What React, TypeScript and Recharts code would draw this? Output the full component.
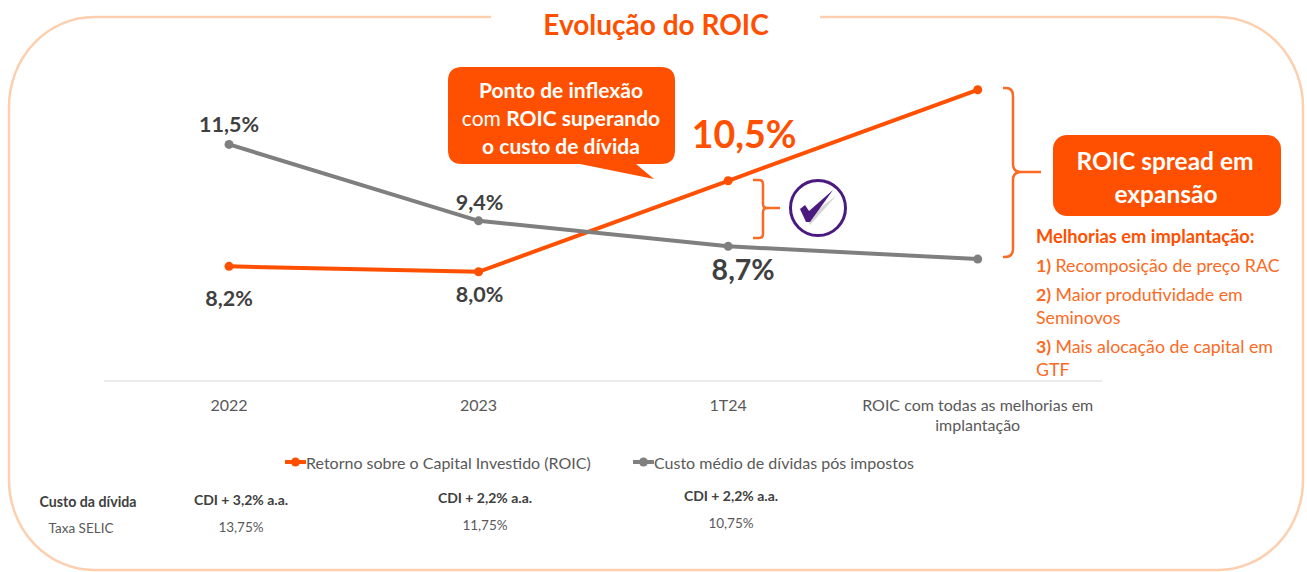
import React from "react";
import { LineChart, Line, XAxis, YAxis, Legend, LabelList } from "recharts";

const categories = ["2022", "2023", "1T24", "ROIC com todas as melhorias em implantação"];
const roicValues = [8.15, 8.0, 10.5, 13.0];
const debtValues = [11.5, 9.4, 8.7, 8.35];
const roicLabels = ["8,2%", "8,0%", "10,5%", ""];
const debtLabels = ["11,5%", "9,4%", "8,7%", ""];
const costRow = ["CDI + 3,2% a.a.", "CDI + 2,2% a.a.", "CDI + 2,2% a.a."];
const selicRow = ["13,75%", "11,75%", "10,75%"];

const chartData = categories.map((c, i) => ({ name: c, roic: roicValues[i], debt: debtValues[i] }));

const ORANGE = "#FE5000";
const SOFT = "#FB6A24";
const GREY = "#7F7F7F";
const DARK = "#404040";
const FONT = "Lato, sans-serif";

const W = 1307;
const H = 572;

const roicStyles = [
  { dy: 32, size: 21.5, weight: 700, fill: DARK, dx: 0 },
  { dy: 22, size: 21.5, weight: 700, fill: DARK, dx: 1 },
  { dy: -47, size: 37.5, weight: 700, fill: ORANGE, dx: 16 },
  { dy: 0, size: 0, weight: 400, fill: DARK, dx: 0 },
];
const debtStyles = [
  { dy: -20, size: 21.5, weight: 700, fill: DARK, dx: 0 },
  { dy: -19, size: 21.5, weight: 700, fill: DARK, dx: 1 },
  { dy: 23, size: 28.5, weight: 700, fill: DARK, dx: 15 },
  { dy: 0, size: 0, weight: 400, fill: DARK, dx: 0 },
];

function makeLabel(texts: string[], styles: typeof roicStyles) {
  return (p: any) => {
    const i = p.index;
    if (!texts[i]) return null;
    const s = styles[i];
    return (
      <text x={p.x + s.dx} y={p.y + s.dy} textAnchor="middle" dominantBaseline="central"
        fontFamily={FONT} fontSize={s.size} fontWeight={s.weight} fill={s.fill}>
        {texts[i]}
      </text>
    );
  };
}

function Tick(p: any) {
  const v: string = p.payload.value;
  const long = v.length > 20;
  const lines = long ? [v.slice(0, v.lastIndexOf(" ")), v.slice(v.lastIndexOf(" ") + 1)] : [v];
  return (
    <text x={p.x} y={p.y} textAnchor="middle" fontFamily={FONT} fontSize={16} fill="#595959">
      {lines.map((l, i) => (
        <tspan key={i} x={p.x} y={404 + i * 20} dominantBaseline="central">{l}</tspan>
      ))}
    </text>
  );
}

function LegendBox(p: any) {
  const items = p.payload || [];
  const lefts = [285, 633];
  return (
    <div style={{ position: "relative", height: 24, width: W, fontFamily: FONT, fontSize: 16, color: "#595959" }}>
      {items.map((it: any, i: number) => (
        <div key={i} style={{ position: "absolute", left: lefts[i], top: 0, height: 24, display: "flex", alignItems: "center", whiteSpace: "nowrap" }}>
          <svg width={21} height={12} style={{ display: "block" }}>
            <line x1={1} y1={6} x2={20} y2={6} stroke={it.color} strokeWidth={4} strokeLinecap="round" />
            <circle cx={10.5} cy={6} r={4.5} fill={it.color} />
          </svg>
          <span>{it.value}</span>
        </div>
      ))}
    </div>
  );
}

function T(props: any) {
  return <text fontFamily={FONT} dominantBaseline="central" {...props} />;
}

function Background() {
  return (
    <svg width={W} height={H} style={{ position: "absolute", left: 0, top: 0 }}>
      <rect x={9} y={17} width={1294} height={553} rx={85} ry={90} fill="#fff" stroke="#FDCFAE" strokeWidth={2.5} />
      <rect x={491} y={5} width={329} height={25} fill="#fff" />
    </svg>
  );
}

function Overlay() {
  const cols = [241, 485, 731];
  const costY = [499, 497, 495];
  const selicX = [241, 485, 731];
  const selicY = [527, 525, 523];
  return (
    <svg width={W} height={H} style={{ position: "absolute", left: 0, top: 0, pointerEvents: "none" }}>
      <T x={656} y={24} textAnchor="middle" fontSize={28} fontWeight={700} fill={ORANGE}>Evolução do ROIC</T>

      <path d="M462 67 H661 Q675 67 675 81 V150 Q675 164 661 164 H636 L654 179 L580 164 H462 Q448 164 448 150 V81 Q448 67 462 67 Z" fill={ORANGE} />
      <g textAnchor="middle" fontSize={21} fill="#fff">
        <T x={561} y={89} fontWeight={700}>Ponto de inflexão</T>
        <T x={561} y={117}><tspan fontWeight={400}>com </tspan><tspan fontWeight={700}>ROIC superando</tspan></T>
        <T x={561} y={145} fontWeight={700}>o custo de dívida</T>
      </g>

      <rect x={1053} y={135} width={228} height={81} rx={14} fill={ORANGE} />
      <g textAnchor="middle" fontSize={24.5} fontWeight={700} fill="#fff">
        <T x={1165} y={160}>ROIC spread em</T>
        <T x={1166} y={193}>expansão</T>
      </g>

      <path d="M1003 88 H1006 Q1013 88 1013 96 V164 Q1013 172 1021 172 H1041 M1021 172 Q1013 172 1013 180 V249 Q1013 257 1005 257 H1003" fill="none" stroke={SOFT} strokeWidth={2.5} />
      <path d="M753 180 H759 Q763 180 763 184 V204 Q763 208 767 208 H780 M767 208 Q763 208 763 212 V234 Q763 238 759 238 H753" fill="none" stroke={SOFT} strokeWidth={2.5} />

      <circle cx={818} cy={208} r={27.5} fill="#fff" stroke="#4B1A7E" strokeWidth={3} />
      <path d="M804 211 L810 225 L837 195 L811 215 L808 209 Z" fill="#D6D6D6" />
      <path d="M800 209 L805 205 L809 211 L833 190 L810 222 L806 222 Z" fill="#4B1A7E" />

      <g fontSize={17.8} fill={SOFT}>
        <T x={1036} y={236} fontWeight={700} fontSize={18.3} fill={ORANGE}>Melhorias em implantação:</T>
        <T x={1036} y={265}><tspan fontWeight={700}>1) </tspan>Recomposição de preço RAC</T>
        <T x={1036} y={294}><tspan fontWeight={700}>2) </tspan>Maior produtividade em</T>
        <T x={1036} y={317}>Seminovos</T>
        <T x={1036} y={346}><tspan fontWeight={700}>3) </tspan>Mais alocação de capital em</T>
        <T x={1036} y={369}>GTF</T>
      </g>

      <g fontSize={13.5} fill={DARK} textAnchor="middle">
        <T x={88} y={501} fontWeight={700} fontSize={14.2}>Custo da dívida</T>
        <T x={81} y={528} fill="#595959">Taxa SELIC</T>
        {costRow.map((c, i) => (
          <T key={i} x={cols[i]} y={costY[i]} fontWeight={700} fontSize={14}>{c}</T>
        ))}
        {selicRow.map((c, i) => (
          <T key={i} x={selicX[i]} y={selicY[i]} fill="#595959">{c}</T>
        ))}
      </g>
    </svg>
  );
}

export default function App() {
  return (
    <div style={{ position: "absolute", left: 0, top: 0, width: W, height: H, overflow: "hidden", background: "#fff" }}>
      <Background />
      <div style={{ position: "absolute", left: 0, top: 0 }}>
        <LineChart width={W} height={H} data={chartData}
          margin={{ top: 53.4, right: 204.5, bottom: 161, left: 104.25 }}>
          <XAxis dataKey="name" scale="band" interval={0} tickLine={false} stroke="#D9D9D9" tick={<Tick />} />
          <YAxis hide domain={[5, 14]} />
          <Legend layout="horizontal" verticalAlign="middle" align="center" itemSorter={null} content={<LegendBox />}
            wrapperStyle={{ position: "absolute", left: 0, top: 450, width: W, margin: 0 }} />
          <Line dataKey="roic" name="Retorno sobre o Capital Investido (ROIC)" stroke={ORANGE} strokeWidth={4}
            dot={{ r: 4.5, fill: ORANGE, stroke: ORANGE, strokeWidth: 0 }} isAnimationActive={false}>
            <LabelList dataKey="roic" content={makeLabel(roicLabels, roicStyles)} />
          </Line>
          <Line dataKey="debt" name="Custo médio de dívidas pós impostos" stroke={GREY} strokeWidth={4}
            dot={{ r: 4.5, fill: GREY, stroke: GREY, strokeWidth: 0 }} isAnimationActive={false}>
            <LabelList dataKey="debt" content={makeLabel(debtLabels, debtStyles)} />
          </Line>
        </LineChart>
      </div>
      <Overlay />
    </div>
  );
}
